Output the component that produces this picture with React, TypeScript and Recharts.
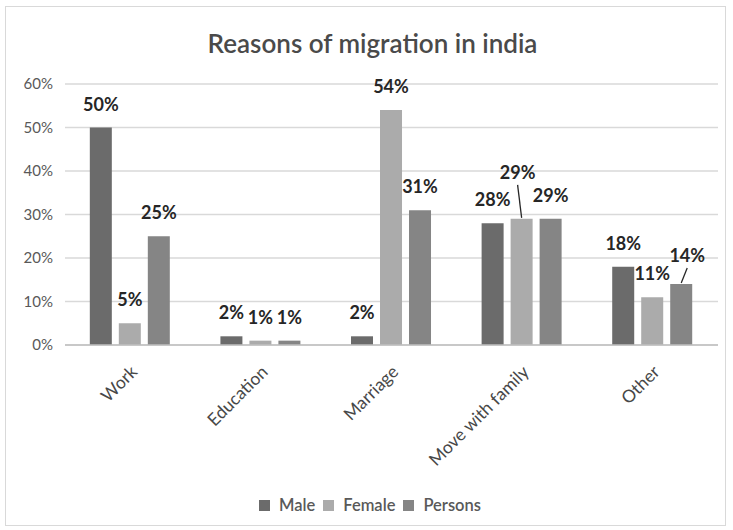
import React from 'react';
import { BarChart, Bar, XAxis, YAxis, CartesianGrid, Legend, LabelList } from 'recharts';

const categories = ['Work', 'Education', 'Marriage', 'Move with family', 'Other'];
const male = [50, 2, 2, 28, 18];
const female = [5, 1, 54, 29, 11];
const persons = [25, 1, 31, 29, 14];
const yTicks = [0, 10, 20, 30, 40, 50, 60];

const seriesNames = ['Male', 'Female', 'Persons'];
const seriesColors = ['#6b6b6b', '#ababab', '#858585'];

const data = categories.map((name, i) => ({
  name,
  Male: male[i],
  Female: female[i],
  Persons: persons[i],
}));

const FONT = 'Lato, "Open Sans", sans-serif';

// labels that Excel moved off their bar, with a leader line back to it
const moved: Record<string, Record<number, { dx: number; dy: number }>> = {
  Female: { 3: { dx: -4, dy: -23 } },
  Persons: { 4: { dx: 6, dy: -5 } },
};

const makeLabel = (series: string) => (props: any) => {
  const { x, y, width, value, index } = props;
  const cx = Number(x) + Number(width) / 2;
  const top = Number(y);
  const shift = moved[series]?.[index];
  const lx = cx + (shift ? shift.dx : 0);
  const ly = top - 17 + (shift ? shift.dy : 0);
  return (
    <g>
      {shift && (
        <line x1={lx} y1={ly + 6} x2={cx} y2={top - 1} stroke="#262626" strokeWidth={1.3} />
      )}
      <text x={lx} y={ly} textAnchor="middle" fontFamily={FONT} fontSize={18} fontWeight="bold" fill="#262626">
        {value}%
      </text>
    </g>
  );
};

const XTick = (props: any) => {
  const { x, y, payload } = props;
  const ax = x + 8;
  const ay = y + 20;
  return (
    <text
      x={ax}
      y={ay}
      transform={`rotate(-45, ${ax}, ${ay})`}
      textAnchor="end"
      fontFamily={FONT}
      fontSize={17.5}
      fill="#474747"
    >
      {payload.value}
    </text>
  );
};

const LegendBox = () => (
  <div style={{ display: 'flex', justifyContent: 'center', alignItems: 'center', paddingLeft: 22, fontFamily: FONT, fontSize: 16.5, fontWeight: 600, color: '#595959', height: 24 }}>
    {seriesNames.map((s, i) => (
      <span key={s} style={{ display: 'flex', alignItems: 'center', marginRight: 8 }}>
        <span style={{ display: 'inline-block', width: 11, height: 11, background: seriesColors[i], marginRight: 9 }} />
        {s}
      </span>
    ))}
  </div>
);

export default function App() {
  return (
    <div style={{ position: 'absolute', left: 0, top: 0, width: 733, height: 530, background: '#fff' }}>
      <div
        style={{
          position: 'absolute',
          left: 5,
          top: 6,
          width: 721,
          height: 520,
          border: '1px solid #d9d9d9',
          boxSizing: 'border-box',
        }}
      />
      <div
        style={{
          position: 'absolute',
          left: 6,
          top: 27,
          width: 733,
          textAlign: 'center',
          fontFamily: FONT,
          fontSize: 26,
          fontWeight: 600,
          color: '#4a4a4a',
        }}
      >
        Reasons of migration in india
      </div>
      <BarChart
        width={733}
        height={530}
        data={data}
        margin={{ top: 84, right: 15, left: 8, bottom: 13 }}
        barCategoryGap="19%"
        barGap={7}
      >
        <CartesianGrid vertical={false} stroke="#d9d9d9" strokeWidth={1.3} />
        <XAxis
          dataKey="name"
          interval={0}
          height={148}
          tickLine={false}
          axisLine={{ stroke: '#bfbfbf', strokeWidth: 1.3 }}
          tick={<XTick />}
        />
        <YAxis
          width={57}
          domain={[0, 60]}
          ticks={yTicks}
          tickFormatter={(v) => `${v}%`}
          axisLine={false}
          tickLine={false}
          tick={{ fontFamily: FONT, fontSize: 15, fill: '#595959', dx: -4 }}
        />
        <Legend verticalAlign="bottom" align="center" height={24} content={<LegendBox />} />
        {seriesNames.map((s, i) => (
          <Bar key={s} dataKey={s} fill={seriesColors[i]} isAnimationActive={false}>
            <LabelList dataKey={s} content={makeLabel(s)} />
          </Bar>
        ))}
      </BarChart>
    </div>
  );
}
